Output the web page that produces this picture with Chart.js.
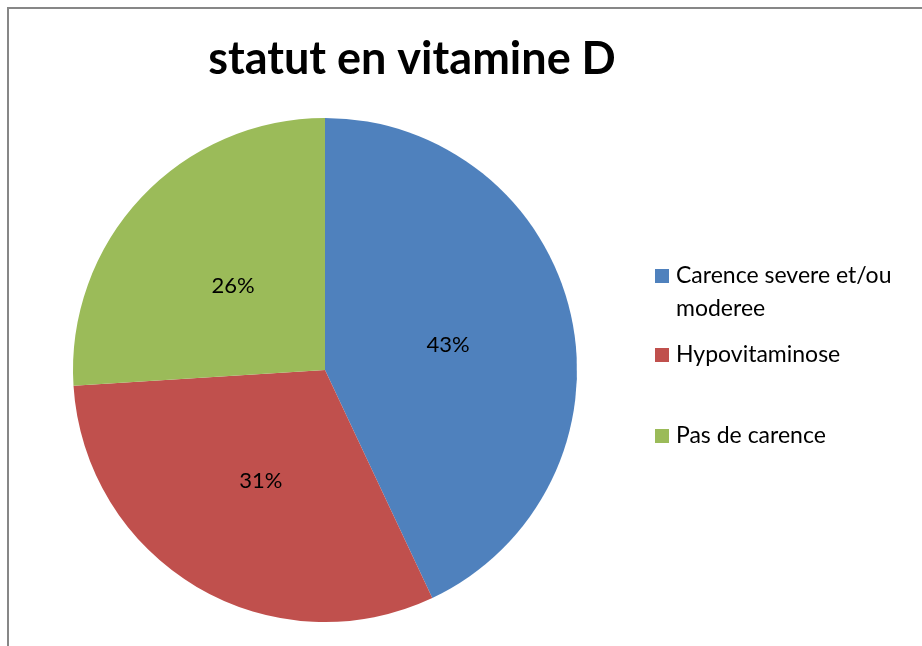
<!DOCTYPE html>
<html>
<head>
<meta charset="utf-8">
<script src="https://cdn.jsdelivr.net/npm/chart.js@4.4.0/dist/chart.umd.min.js"></script>
<style>
  html, body { margin: 0; padding: 0; background: #fff; }
  canvas { display: block; }
</style>
</head>
<body>
<canvas id="vitDChart" width="922" height="646"></canvas>
<script>
// chart data
const chartTitle = 'statut en vitamine D';
const categories = [['Carence severe et/ou', 'moderee'], ['Hypovitaminose'], ['Pas de carence']];
const percentValues = [43, 31, 26];
const sliceColors = ['#4F81BD', '#C0504D', '#9BBB59'];

const FONT = 'Lato, "Open Sans", sans-serif';

// frame + title + legend, drawn on the canvas
const decorPlugin = {
    id: 'decor',
    beforeDraw(chart) {
        const ctx = chart.ctx;
        ctx.save();
        ctx.fillStyle = '#fff';
        ctx.fillRect(0, 0, chart.width, chart.height);
        ctx.strokeStyle = '#878787';
        ctx.lineWidth = 2;
        ctx.strokeRect(8, 8, chart.width + 20, chart.height + 20);
        ctx.restore();
    },
    afterDraw(chart) {
        const ctx = chart.ctx;
        ctx.save();
        ctx.fillStyle = '#000';
        ctx.textBaseline = 'alphabetic';

        // title
        ctx.font = 'bold 45px ' + FONT;
        ctx.textAlign = 'center';
        ctx.fillText(chartTitle, 412, 74);

        // legend
        ctx.font = '23px ' + FONT;
        ctx.textAlign = 'left';
        const rowTops = [269, 348, 429];
        chart.data.labels.forEach((lines, i) => {
            const y = rowTops[i];
            ctx.fillStyle = chart.data.datasets[0].backgroundColor[i];
            ctx.fillRect(655, y, 14, 14);
            ctx.fillStyle = '#000';
            lines.forEach((line, j) => {
                ctx.fillText(line, 676, y + 14 + j * 33);
            });
        });

        // percentage labels at the slice centroids
        ctx.font = '22px ' + FONT;
        ctx.textAlign = 'center';
        ctx.textBaseline = 'middle';
        const meta = chart.getDatasetMeta(0);
        meta.data.forEach((arc, i) => {
            const pos = arc.tooltipPosition();
            ctx.fillText(chart.data.datasets[0].data[i] + '%', pos.x, pos.y + 2);
        });
        ctx.restore();
    }
};

new Chart(document.getElementById('vitDChart'), {
    type: 'pie',
    data: {
        labels: categories,
        datasets: [{
            data: percentValues,
            backgroundColor: sliceColors,
            borderWidth: 0
        }]
    },
    options: {
        responsive: false,
        animation: false,
        layout: {
            padding: { left: 73, right: 345, top: 118, bottom: 24 }
        },
        plugins: {
            legend: { display: false },
            tooltip: { enabled: false },
            title: { display: false }
        }
    },
    plugins: [decorPlugin]
});
</script>
</body>
</html>
